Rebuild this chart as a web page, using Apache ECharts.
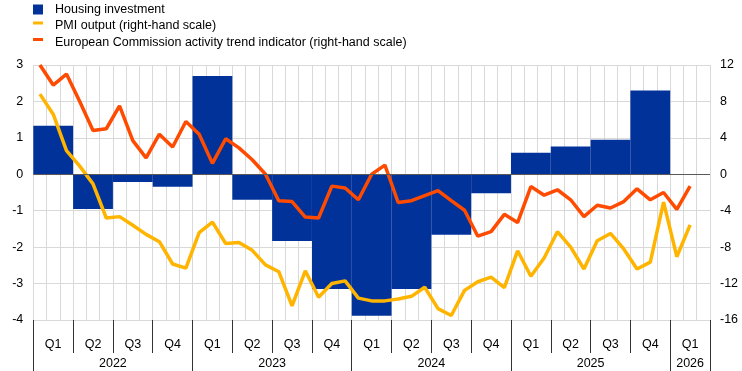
<!DOCTYPE html>
<html>
<head>
<meta charset="utf-8">
<script src="https://cdn.jsdelivr.net/npm/echarts@6/dist/echarts.min.js"></script>
<style>
html,body{margin:0;padding:0;background:#fff;}
#chart{width:742px;height:371px;}
</style>
</head>
<body>
<div id="chart"></div>
<script>
// Quarterly categories (2022 Q1 .. 2026 Q1)
var quarters = ['2022 Q1','2022 Q2','2022 Q3','2022 Q4','2023 Q1','2023 Q2','2023 Q3','2023 Q4',
  '2024 Q1','2024 Q2','2024 Q3','2024 Q4','2025 Q1','2025 Q2','2025 Q3','2025 Q4','2026 Q1'];
var quarterLabels = ['Q1','Q2','Q3','Q4','Q1','Q2','Q3','Q4','Q1','Q2','Q3','Q4','Q1','Q2','Q3','Q4','Q1'];
var yearLabels = {'2022': 6, '2023': 18, '2024': 30, '2025': 42, '2026': 49.5}; // centre of each year, in months

// Housing investment (left-hand scale), quarterly
var housingInvestment = [1.33, -0.95, -0.21, -0.34, 2.70, -0.70, -1.83, -3.15,
  -3.88, -3.15, -1.66, -0.52, 0.59, 0.76, 0.95, 2.30, null];

// PMI output (right-hand scale), monthly from Jan 2022
var pmiOutput = [8.8, 6.6, 2.6, 0.9, -1.05, -4.8, -4.65, -5.6, -6.6, -7.4, -9.85, -10.3,
  -6.4, -5.25, -7.6, -7.5, -8.35, -9.95, -10.7, -14.45, -10.6, -13.5, -12.0, -11.7,
  -13.6, -13.9, -13.9, -13.7, -13.4, -12.4, -14.75, -15.5, -12.75, -11.8, -11.3, -12.45,
  -8.4, -11.2, -9.2, -6.3, -8.0, -10.4, -7.3, -6.5, -8.2, -10.4, -9.65, -3.05,
  -9.05, -5.55, null];

// European Commission activity trend indicator (right-hand scale), monthly
var ecIndicator = [12.0, 9.8, 11.0, 8.0, 4.8, 5.0, 7.5, 3.7, 1.8, 4.4, 3.0, 5.8,
  4.4, 1.2, 3.9, 2.9, 1.6, 0.0, -2.9, -3.0, -4.7, -4.8, -1.3, -1.5,
  -2.8, 0.0, 1.0, -3.1, -2.9, -2.35, -1.8, -2.9, -3.95, -6.8, -6.3, -4.4,
  -5.3, -1.35, -2.3, -1.7, -2.8, -4.65, -3.4, -3.7, -3.0, -1.6, -2.8, -2.0,
  -3.85, -1.3, null];

var months = [];
quarters.forEach(function (q) {
  for (var m = 1; m <= 3; m++) months.push(q + ' M' + m);
});

var FONT = 'Liberation Sans, Arial, sans-serif';
var TXT = '#000';
var GRID = '#d9d9d9';
var TICK = '#333';

var chart = echarts.init(document.getElementById('chart'), null, {renderer: 'canvas'});
chart.setOption({
  animation: false,
  textStyle: {fontFamily: FONT},
  legend: {
    orient: 'vertical',
    left: 33, top: 3, padding: 0,
    itemWidth: 10, itemHeight: 10, itemGap: 3.5,
    selectedMode: false,
    textStyle: {color: TXT, fontSize: 12.5, fontFamily: FONT, padding: [0, 0, 0, 7]},
    data: [
      {name: 'Housing investment', icon: 'rect'},
      {name: 'PMI output (right-hand scale)', icon: 'path://M0,0h10v3h-10zM0,9'},
      {name: 'European Commission activity trend indicator (right-hand scale)', icon: 'path://M0,0h10v3h-10zM0,9'}
    ]
  },
  grid: {left: 33.3, right: 32, top: 65, bottom: 51, containLabel: false},
  xAxis: [
    { // monthly axis for lines + vertical gridlines
      type: 'category', data: months, position: 'bottom', boundaryGap: true,
      axisLine: {show: false, onZero: false}, axisTick: {show: false}, axisLabel: {show: false},
      splitLine: {show: true, interval: 0, lineStyle: {color: GRID, width: 1}}
    },
    { // quarterly axis for bars + quarter labels
      type: 'category', data: quarters, position: 'bottom', boundaryGap: true,
      axisLine: {show: false, onZero: false},
      axisTick: {show: true, interval: 0, length: 33, lineStyle: {color: TICK, width: 1}},
      axisLabel: {interval: 0, margin: 18, color: TXT, fontSize: 12.5, fontFamily: FONT,
        formatter: function (v, i) { return quarterLabels[i]; }},
      splitLine: {show: false}
    },
    { // year separators
      type: 'category', data: quarters, position: 'bottom', boundaryGap: true,
      axisLine: {show: false, onZero: false},
      axisTick: {show: true, length: 52, lineStyle: {color: TICK, width: 1},
        interval: function (i) { return i % 4 === 0; }},
      axisLabel: {show: false}, splitLine: {show: false}
    },
    { // year labels
      type: 'value', min: 0, max: 51, interval: 1.5, position: 'bottom',
      axisLine: {show: false, onZero: false}, axisTick: {show: false}, splitLine: {show: false},
      axisLabel: {margin: 37, color: TXT, fontSize: 12.5, fontFamily: FONT, showMinLabel: true, showMaxLabel: true,
        formatter: function (v) {
          for (var y in yearLabels) { if (Math.abs(yearLabels[y] - v) < 0.01) return y; }
          return '';
        }}
    }
  ],
  yAxis: [
    {
      type: 'value', min: -4, max: 3, interval: 1, position: 'left',
      axisLine: {show: false}, axisTick: {show: false},
      axisLabel: {margin: 10, color: TXT, fontSize: 12.5, fontFamily: FONT},
      splitLine: {show: true, lineStyle: {color: GRID, width: 1}}
    },
    {
      type: 'value', min: -16, max: 12, interval: 4, position: 'right',
      axisLine: {show: false}, axisTick: {show: false},
      axisLabel: {margin: 10, color: TXT, fontSize: 12.5, fontFamily: FONT},
      splitLine: {show: false}
    }
  ],
  series: [
    {
      name: 'Housing investment', type: 'bar', xAxisIndex: 1, yAxisIndex: 0,
      data: housingInvestment, barCategoryGap: '0%', barGap: '0%',
      itemStyle: {color: '#003299'},
      markLine: {silent: true, symbol: 'none', label: {show: false},
        lineStyle: {color: '#595959', width: 1, type: 'solid'},
        data: [{yAxis: 0}]}
    },
    {
      name: 'PMI output (right-hand scale)', type: 'line', xAxisIndex: 0, yAxisIndex: 1,
      data: pmiOutput, showSymbol: false, symbol: 'none',
      lineStyle: {color: '#ffb400', width: 3.5}, itemStyle: {color: '#ffb400'}
    },
    {
      name: 'European Commission activity trend indicator (right-hand scale)', type: 'line',
      xAxisIndex: 0, yAxisIndex: 1,
      data: ecIndicator, showSymbol: false, symbol: 'none',
      lineStyle: {color: '#ff4b00', width: 3.5}, itemStyle: {color: '#ff4b00'}
    }
  ]
});
</script>
</body>
</html>
